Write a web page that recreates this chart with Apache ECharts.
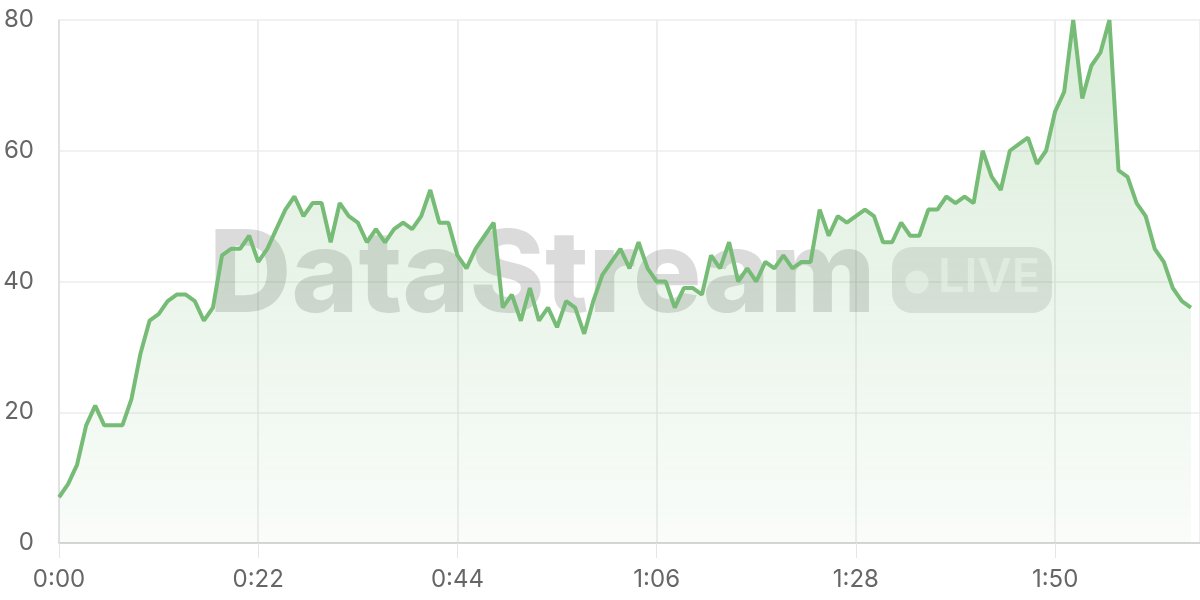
<!DOCTYPE html>
<html>
<head>
<meta charset="utf-8">
<script src="https://cdn.jsdelivr.net/npm/echarts@6/dist/echarts.min.js"></script>
<style>html,body{margin:0;padding:0;background:#fff;}#c{width:1200px;height:600px;}</style>
</head>
<body>
<div id="c"></div>
<script>
// seconds elapsed (one sample per second)
const seconds = [];
for (let s = 0; s <= 125; s++) seconds.push(s);
const values = [
  7, 9, 12, 18, 21, 18, 18, 18, 22, 29,
  34, 35, 37, 38, 38, 37, 34, 36, 44, 45,
  45, 47, 43, 45, 48, 51, 53, 50, 52, 52,
  46, 52, 50, 49, 46, 48, 46, 48, 49, 48,
  50, 54, 49, 49, 44, 42, 45, 47, 49, 36,
  38, 34, 39, 34, 36, 33, 37, 36, 32, 37,
  41, 43, 45, 42, 46, 42, 40, 40, 36, 39,
  39, 38, 44, 42, 46, 40, 42, 40, 43, 42,
  44, 42, 43, 43, 51, 47, 50, 49, 50, 51,
  50, 46, 46, 49, 47, 47, 51, 51, 53, 52,
  53, 52, 60, 56, 54, 60, 61, 62, 58, 60,
  66, 69, 80, 68, 73, 75, 80, 57, 56, 52,
  50, 45, 43, 39, 37, 36
];
const yTicks = [0, 20, 40, 60, 80];
const xTickSeconds = [0, 22, 44, 66, 88, 110];
const watermarkText = 'DataStream';
const badgeText = 'LIVE';

function fmt(s) {
  const m = Math.floor(s / 60), ss = Math.round(s % 60);
  return m + ':' + (ss < 10 ? '0' : '') + ss;
}

const chart = echarts.init(document.getElementById('c'));
const font = 'Inter, "Noto Sans", sans-serif';
chart.setOption({
  animation: false,
  grid: { left: 59, right: 0, top: 20, bottom: 57, containLabel: false },
  xAxis: {
    type: 'value', min: 0, max: 126, interval: 22,
    axisLine: { show: true, lineStyle: { color: '#cccccc', width: 1.5 } },
    axisTick: { show: true, length: 15, lineStyle: { color: '#e6e6e6' } },
    splitLine: { show: true, lineStyle: { color: '#e9e9e9', width: 1.5 } },
    axisLabel: { margin: 25, color: '#666', fontSize: 24, fontFamily: font, formatter: v => fmt(v),
      customValues: xTickSeconds }
  },
  yAxis: {
    type: 'value', min: yTicks[0], max: yTicks[yTicks.length - 1], interval: 20,
    axisLine: { show: true, lineStyle: { color: '#dddddd', width: 1.5 } },
    axisTick: { show: false },
    splitLine: { show: true, lineStyle: { color: '#ececec', width: 1.5 } },
    axisLabel: { margin: 25, color: '#666', fontSize: 24, fontFamily: font }
  },
  graphic: [
    { type: 'text', z: 1, left: 209, top: 221,
      style: { text: watermarkText, font: '800 114px Inter, sans-serif', fill: 'rgba(0,0,0,0.14)' } },
    { type: 'rect', z: 1, shape: { x: 892, y: 247, width: 160, height: 66, r: 20 },
      style: { fill: 'rgba(0,0,0,0.10)' } },
    { type: 'circle', z: 1, shape: { cx: 917, cy: 282, r: 11.5 },
      style: { fill: 'rgba(255,255,255,0.55)' } },
    { type: 'text', z: 1, left: 938, top: 254,
      style: { text: badgeText, font: '600 47px Inter, sans-serif', fill: 'rgba(255,255,255,0.55)' } }
  ],
  series: [{
    type: 'line',
    data: seconds.map((s, i) => [s, values[i]]),
    showSymbol: false,
    symbol: 'none',
    lineStyle: { color: '#76bc76', width: 4 },
    itemStyle: { color: '#76bc76' },
    areaStyle: {
      color: new echarts.graphic.LinearGradient(0, 0, 0, 1, [
        { offset: 0, color: 'rgba(118,188,118,0.38)' },
        { offset: 1, color: 'rgba(118,188,118,0.06)' }
      ])
    }
  }]
});
</script>
</body>
</html>
